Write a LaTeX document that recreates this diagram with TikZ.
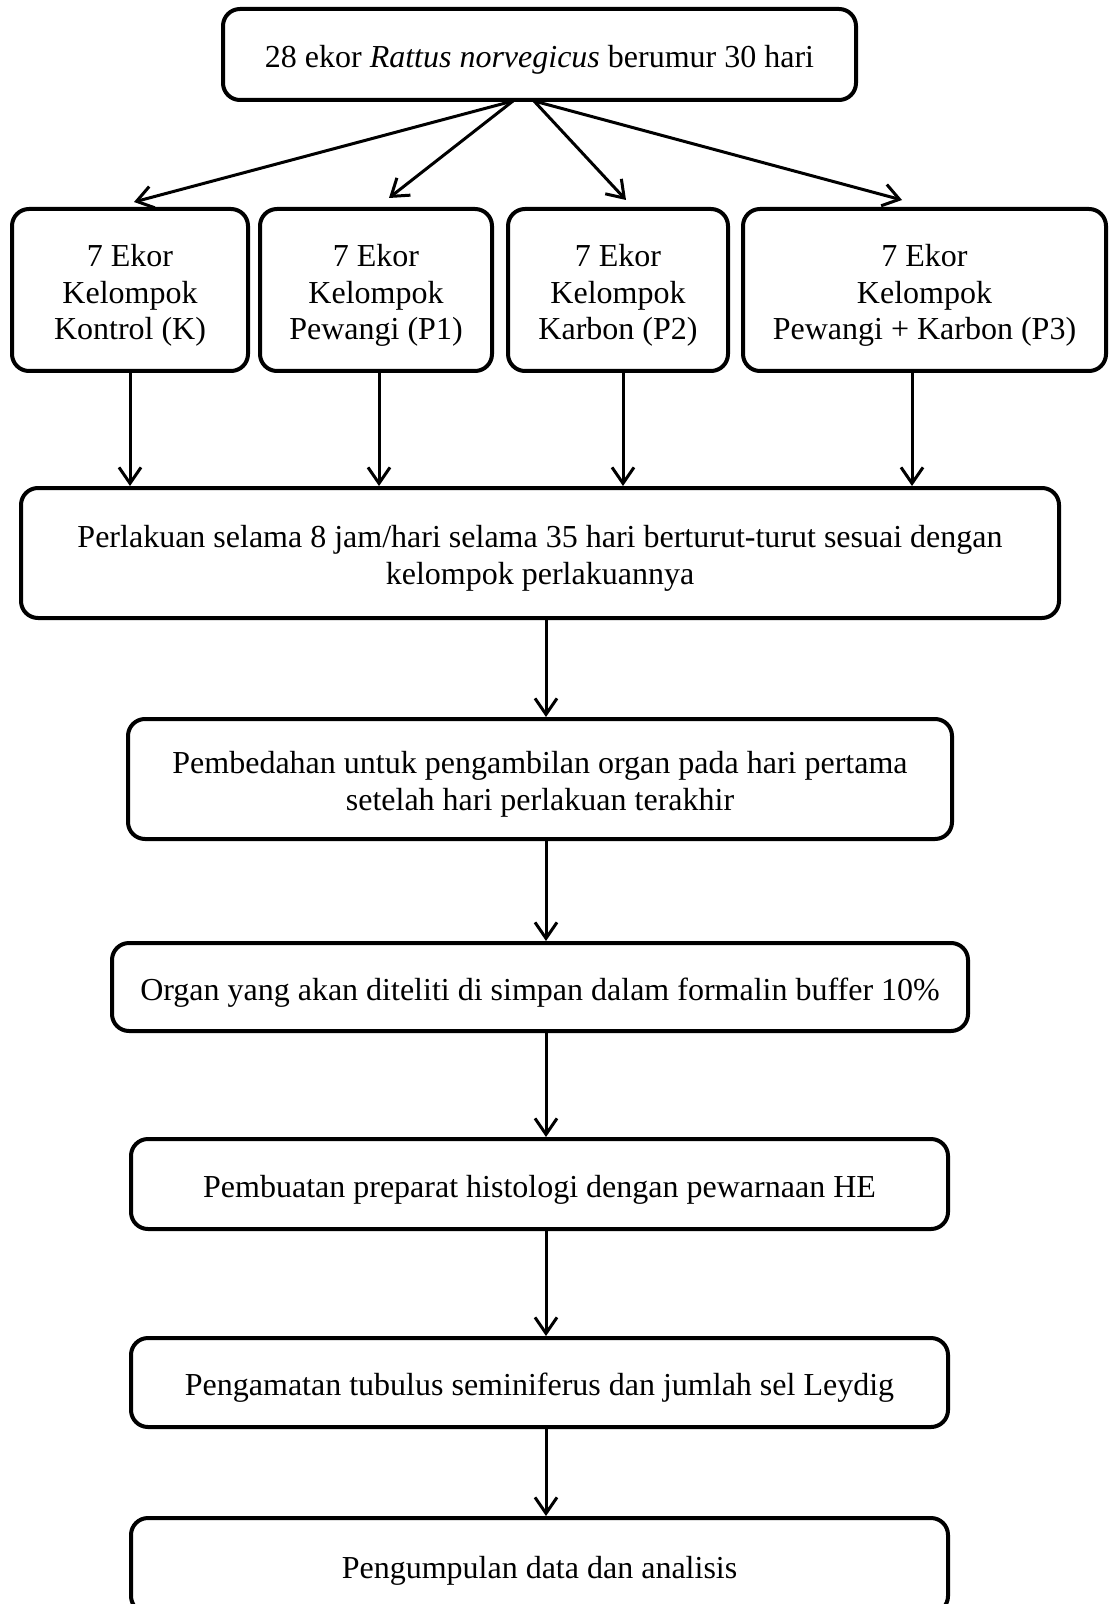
\documentclass[tikz,border=0pt]{standalone}
\usepackage{fontspec}
\setmainfont{Liberation Serif}
\usetikzlibrary{arrows.meta,calc}
\begin{document}
\begin{tikzpicture}[x=0.5pt,y=-0.5pt,
  box/.style={draw,line width=2pt,rounded corners=8.5pt,inner sep=0pt},
  lab/.style={align=center,inner sep=0pt,yshift=-2.75pt,
    font=\fontsize{16}{18.4}\selectfont},
  arr/.style={line width=1.5pt,-{Straight Barb[length=8pt,width=11pt,line width=1.5pt]}}]
\useasboundingbox (0,0) rectangle (1109,1604);
\clip (0,0) rectangle (1109,1604);
\node[box,minimum width=316.5pt,minimum height=45.5pt,
  label={[lab]center:{28 ekor \textit{Rattus norvegicus} berumur 30 hari}}] (top) at (539.5,54.5) {};
\node[box,minimum width=118pt,minimum height=81pt,
  label={[lab]center:{7 Ekor\\Kelompok\\Kontrol (K)}}] (K) at (130,290) {};
\node[box,minimum width=116pt,minimum height=81pt,
  label={[lab]center:{7 Ekor\\Kelompok\\Pewangi (P1)}}] (P1) at (376,290) {};
\node[box,minimum width=110pt,minimum height=81pt,
  label={[lab]center:{7 Ekor\\Kelompok\\Karbon (P2)}}] (P2) at (618,290) {};
\node[box,minimum width=181.5pt,minimum height=81pt,
  label={[lab]center:{7 Ekor\\Kelompok\\Pewangi + Karbon (P3)}}] (P3) at (924.5,290) {};
\node[box,minimum width=519pt,minimum height=65pt,
  label={[lab]center:{Perlakuan selama 8 jam/hari selama 35 hari berturut-turut sesuai dengan\\kelompok perlakuannya}}] (treat) at (540,553) {};
\node[box,minimum width=412pt,minimum height=60pt,
  label={[lab]center:{Pembedahan untuk pengambilan organ pada hari pertama\\setelah hari perlakuan terakhir}}] (bedah) at (540,779) {};
\node[box,minimum width=428pt,minimum height=44pt,
  label={[lab]center:{Organ yang akan diteliti di simpan dalam formalin buffer 10\%}}] (organ) at (540,987) {};
\node[box,minimum width=408.5pt,minimum height=45pt,
  label={[lab]center:{Pembuatan preparat histologi dengan pewarnaan HE}}] (buat) at (539.5,1184) {};
\node[box,minimum width=408.5pt,minimum height=44.5pt,
  label={[lab]center:{Pengamatan tubulus seminiferus dan jumlah sel Leydig}}] (amat) at (539.5,1382.5) {};
\node[box,minimum width=408.5pt,minimum height=47.5pt,
  label={[lab]center:{Pengumpulan data dan analisis}}] (kumpul) at (539.5,1565.5) {};
% top fan-out
\coordinate (tl) at (513,101);
\coordinate (tr) at (534,101);
\coordinate (aK) at (134,202);
\coordinate (aP1) at (389,198);
\coordinate (aP2) at (626,200);
\coordinate (aP3) at (902,200);
\draw[arr] (tl) -- (aK);
\draw[arr] (tl) -- (aP1);
\draw[arr] (tr) -- (aP2);
\draw[arr] (tr) -- (aP3);
% groups to treatment
\draw[arr] (K.south) -- (K.south |- treat.north);
\draw[arr] ([xshift=1.5pt]P1.south) -- ([xshift=1.5pt]P1.south |- treat.north);
\draw[arr] ([xshift=2.5pt]P2.south) -- ([xshift=2.5pt]P2.south |- treat.north);
\draw[arr] ([xshift=-6.25pt]P3.south) -- ([xshift=-6.25pt]P3.south |- treat.north);
% chain
\coordinate (cx) at (546,0);
\draw[arr] (treat.south -| cx) -- (bedah.north -| cx);
\draw[arr] (bedah.south -| cx) -- (organ.north -| cx);
\draw[arr] (organ.south -| cx) -- (buat.north -| cx);
\draw[arr] (buat.south -| cx) -- (amat.north -| cx);
\draw[arr] (amat.south -| cx) -- (kumpul.north -| cx);
\end{tikzpicture}
\end{document}
